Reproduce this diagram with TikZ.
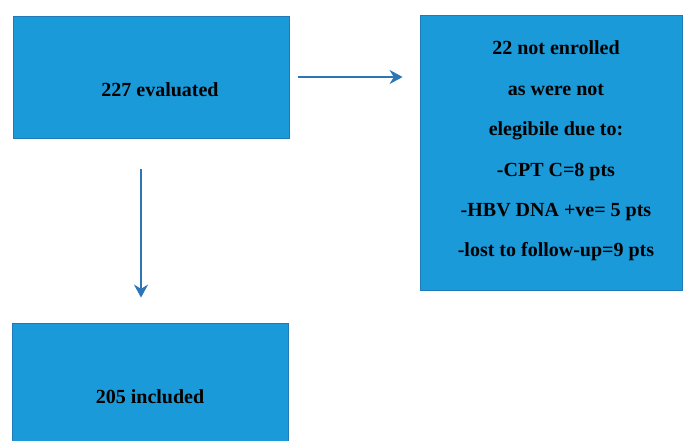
\documentclass[tikz,border=0pt]{standalone}
\usepackage{fontspec}
\setmainfont{Liberation Serif}
\usepackage{xcolor}
\usepackage{tikz}
\usetikzlibrary{arrows.meta,positioning,calc}

\definecolor{boxblue}{RGB}{26,154,216}
\definecolor{edgeblue}{RGB}{32,122,184}
\definecolor{arrowblue}{RGB}{46,117,182}

\tikzset{
  flowbox/.style={draw=edgeblue, line width=0.8pt, fill=boxblue, inner sep=0pt},
  boxtext/.style={font=\fontsize{20}{40.4}\selectfont\bfseries, align=center, inner sep=0pt},
  flowarrow/.style={-{Stealth[length=13pt,width=14pt]}, line width=2.7pt, arrowblue}
}

\begin{document}
\begin{tikzpicture}[x=1pt, y=-1pt]
\useasboundingbox (0,0) rectangle (684,440);

% Boxes
\node[flowbox, minimum width=276pt, minimum height=122pt] (eval) at (151,77) {};
\node[flowbox, minimum width=262pt, minimum height=275pt] (excl) at (551,152.5) {};
\node[flowbox, minimum width=276pt, minimum height=130pt] (incl) at (150,388) {};

% Texts
\node[boxtext] (evaltext) at (160,90) {227 evaluated};
\node[boxtext] (excltext) at (556,151) {22 not enrolled\\as were not\\elegibile due to:\\-CPT C=8 pts\\-HBV DNA +ve= 5 pts\\-lost to follow-up=9 pts};
\node[boxtext] (incltext) at (150,397) {205 included};

% Arrows
\draw[flowarrow, shorten <=9pt, shorten >=17pt] (eval.east) -- (eval.east -| excl.west);
\draw[flowarrow, shorten <=31pt, shorten >=25pt] ([xshift=-10pt]eval.south) -- ([xshift=-10pt]eval.south |- incl.north);

\end{tikzpicture}
\end{document}
